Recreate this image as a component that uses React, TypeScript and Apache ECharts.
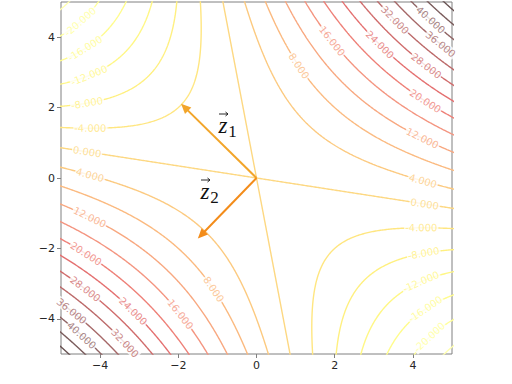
import React, { useEffect, useRef } from 'react';
import * as echarts from 'echarts';

// quadratic form f(x,y) = a*x^2 + b*x*y + c*y^2
const formCoeffs = [0.25, 1.5, 0.25];
const xRange = [-5, 5];
const yRange = [-5, 5];
const tickValues = [-4, -2, 0, 2, 4];
const levels = [-24, -20, -16, -12, -8, -4, 0, 4, 8, 12, 16, 20, 24, 28, 32, 36, 40, 44, 48];

// contour label anchors: [level, x, y]
const labelAnchors = [
  [-20, -4.5, 4.42], [-16, -4.38, 3.69], [-12, -4.3, 2.93], [-8, -4.33, 2.17], [-4, -4.25, 1.44],
  [0, -4.33, 0.76], [4, -4.25, 0.11],
  [12, -4.25, -1.07], [20, -4.35, -2.14], [28, -4.38, -3.15], [36, -4.74, -3.8], [40, -4.38, -4.37],
  [32, -3.28, -4.62], [24, -3.15, -3.77], [16, -1.91, -3.83], [8, -1.07, -3.15],
  [8, 1.07, 3.18], [16, 1.93, 3.89], [24, 3.16, 3.8], [32, 3.55, 4.48], [40, 4.35, 4.37],
  [36, 4.73, 3.83], [28, 4.35, 3.18], [20, 4.3, 2.14], [12, 4.25, 1.13], [4, 4.25, -0.14],
  [0, 4.3, -0.73], [-4, 4.22, -1.38], [-8, 4.25, -2.08], [-12, 4.17, -2.87], [-16, 4.25, -3.63], [-20, 4.3, -4.42],
];

const vectorNames = ['1', '2'];
const vectorEnds = [[-1.93, 2.11], [-1.5, -1.72]];

// styles
const levelColors = [
  '#ffffb0', '#ffff99', '#fffc8c', '#fff785', '#fff080', '#ffe680', '#fdd882', '#fcca80',
  '#fbba80', '#f8a880', '#f49580', '#ee8078', '#e47070', '#d06c6c', '#bc6a6a', '#a66868',
  '#906464', '#7a5c5c', '#665050',
];
const arrowColors = ['#f2a52a', '#f38c1a'];
const GRID = { left: 61, top: 2, width: 391, height: 352 };

function eigen() {
  const [a, b, c] = formCoeffs;
  const th = 0.5 * Math.atan2(b, a - c);
  const e1 = [Math.cos(th), Math.sin(th)];
  const e2 = [-Math.sin(th), Math.cos(th)];
  const q = (e: number[]) => a * e[0] * e[0] + b * e[0] * e[1] + c * e[1] * e[1];
  return { e1, e2, l1: q(e1), l2: q(e2) };
}

function contourBranches(L: number): number[][][] {
  const { e1, e2, l1, l2 } = eigen();
  const R = Math.hypot(xRange[1], yRange[1]) * 1.05;
  const N = 600;
  const out: number[][][] = [];
  for (const s of [1, -1]) {
    const pts: number[][] = [];
    for (let i = 0; i <= N; i++) {
      const t = -R + (2 * R * i) / N;
      let u: number, v: number;
      if (L >= 0) {
        v = t;
        u = s * Math.sqrt(Math.max(0, (L - l2 * v * v) / l1));
      } else {
        u = t;
        v = s * Math.sqrt(Math.max(0, (L - l1 * u * u) / l2));
      }
      pts.push([u * e1[0] + v * e2[0], u * e1[1] + v * e2[1]]);
    }
    out.push(pts);
  }
  return out;
}

const fmtTick = (v: number) => (v < 0 ? '\u2212' + Math.abs(v) : String(v));

export default function App() {
  const ref = useRef<HTMLDivElement>(null);
  useEffect(() => {
    document.body.style.margin = '0';
    if (!ref.current) return;
    const chart = echarts.init(ref.current, undefined, { renderer: 'svg' });
    const series: any[] = [];
    const branchesByLevel: Record<number, number[][][]> = {};
    levels.forEach((L, i) => {
      const br = contourBranches(L);
      branchesByLevel[L] = br;
      br.forEach((pts) => {
        series.push({
          type: 'line',
          data: pts,
          showSymbol: false,
          symbol: 'none',
          clip: true,
          silent: true,
          lineStyle: { color: levelColors[i], width: 1.4 },
          z: 2,
        });
      });
    });
    const sx = GRID.width / (xRange[1] - xRange[0]);
    const sy = GRID.height / (yRange[1] - yRange[0]);
    const labelData = labelAnchors.map(([L, x, y]) => {
      const br = branchesByLevel[L];
      let best = { d: Infinity, b: 0, k: 0 };
      br.forEach((pts, b) => pts.forEach((p, k) => {
        const d = (p[0] - x) ** 2 + (p[1] - y) ** 2;
        if (d < best.d) best = { d, b, k };
      }));
      const pts = br[best.b];
      const p0 = pts[Math.max(0, best.k - 1)];
      const p1 = pts[Math.min(pts.length - 1, best.k + 1)];
      let ang = (Math.atan2((p1[1] - p0[1]) * sy, (p1[0] - p0[0]) * sx) * 180) / Math.PI;
      if (ang > 90) ang -= 180;
      if (ang < -90) ang += 180;
      const ci = levels.indexOf(L);
      return {
        value: pts[best.k],
        label: { rotate: ang, color: levelColors[ci], formatter: L.toFixed(3) },
      };
    });
    series.push({
      type: 'scatter',
      data: labelData,
      symbolSize: 1,
      itemStyle: { color: 'rgba(0,0,0,0)' },
      silent: true,
      z: 3,
      label: {
        show: true,
        position: 'inside',
        fontSize: 10,
        fontFamily: 'DejaVu Sans',
        backgroundColor: '#ffffff',
        padding: [0, 1],
      },
    });
    series.push({
      type: 'custom',
      data: vectorEnds.map(([x, y]) => [0, 0, x, y]),
      clip: false,
      silent: true,
      z: 5,
      renderItem: (params: any, api: any) => {
        const p0 = api.coord([api.value(0), api.value(1)]);
        const p1 = api.coord([api.value(2), api.value(3)]);
        const dx = p1[0] - p0[0];
        const dy = p1[1] - p0[1];
        const len = Math.hypot(dx, dy);
        const ux = dx / len;
        const uy = dy / len;
        const headLen = 10;
        const headW = 4.5;
        const bx = p1[0] - ux * headLen;
        const by = p1[1] - uy * headLen;
        const color = arrowColors[params.dataIndex];
        return {
          type: 'group',
          children: [
            { type: 'line', shape: { x1: p0[0], y1: p0[1], x2: bx + ux * 2, y2: by + uy * 2 }, style: { stroke: color, lineWidth: 2 } },
            {
              type: 'polygon',
              shape: { points: [[p1[0], p1[1]], [bx - uy * headW, by + ux * headW], [bx + uy * headW, by - ux * headW]] },
              style: { fill: color },
            },
          ],
        };
      },
    });

    const zLabel = (cx: number, cy: number, sub: string) => [
      { type: 'text', x: cx, y: cy, style: { text: 'z', font: 'italic 23px "Liberation Serif"', fill: '#111', align: 'center', verticalAlign: 'middle' }, z: 10 },
      { type: 'text', x: cx + 9.5, y: cy + 6, style: { text: sub, font: '17px "Liberation Serif"', fill: '#111', align: 'center', verticalAlign: 'middle' }, z: 10 },
      { type: 'line', shape: { x1: cx - 4, y1: cy - 11, x2: cx + 5, y2: cy - 11 }, style: { stroke: '#111', lineWidth: 0.9 }, z: 10 },
      { type: 'polyline', shape: { points: [[cx + 2.5, cy - 13], [cx + 5, cy - 11], [cx + 2.5, cy - 9]] }, style: { stroke: '#111', lineWidth: 0.9, fill: 'none' }, z: 10 },
    ];

    const axisCommon = {
      type: 'value',
      axisLine: { show: false, onZero: false },
      splitLine: { show: false },
      axisTick: { show: true, customValues: tickValues, length: 4, lineStyle: { color: '#808080' } },
      axisLabel: { customValues: tickValues, formatter: fmtTick, fontSize: 11, fontFamily: 'DejaVu Sans', color: '#262626', margin: 6 },
    };

    chart.setOption({
      animation: false,
      grid: { ...GRID, show: true, borderColor: '#808080', borderWidth: 1, backgroundColor: 'transparent' },
      xAxis: { ...axisCommon, position: 'bottom', min: xRange[0], max: xRange[1] },
      yAxis: { ...axisCommon, position: 'left', min: yRange[0], max: yRange[1] },
      series,
      graphic: [...zLabel(223, 125, vectorNames[0]), ...zLabel(205, 191, vectorNames[1])],
    });
    return () => chart.dispose();
  }, []);
  return <div ref={ref} style={{ width: 512, height: 384 }} />;
}
